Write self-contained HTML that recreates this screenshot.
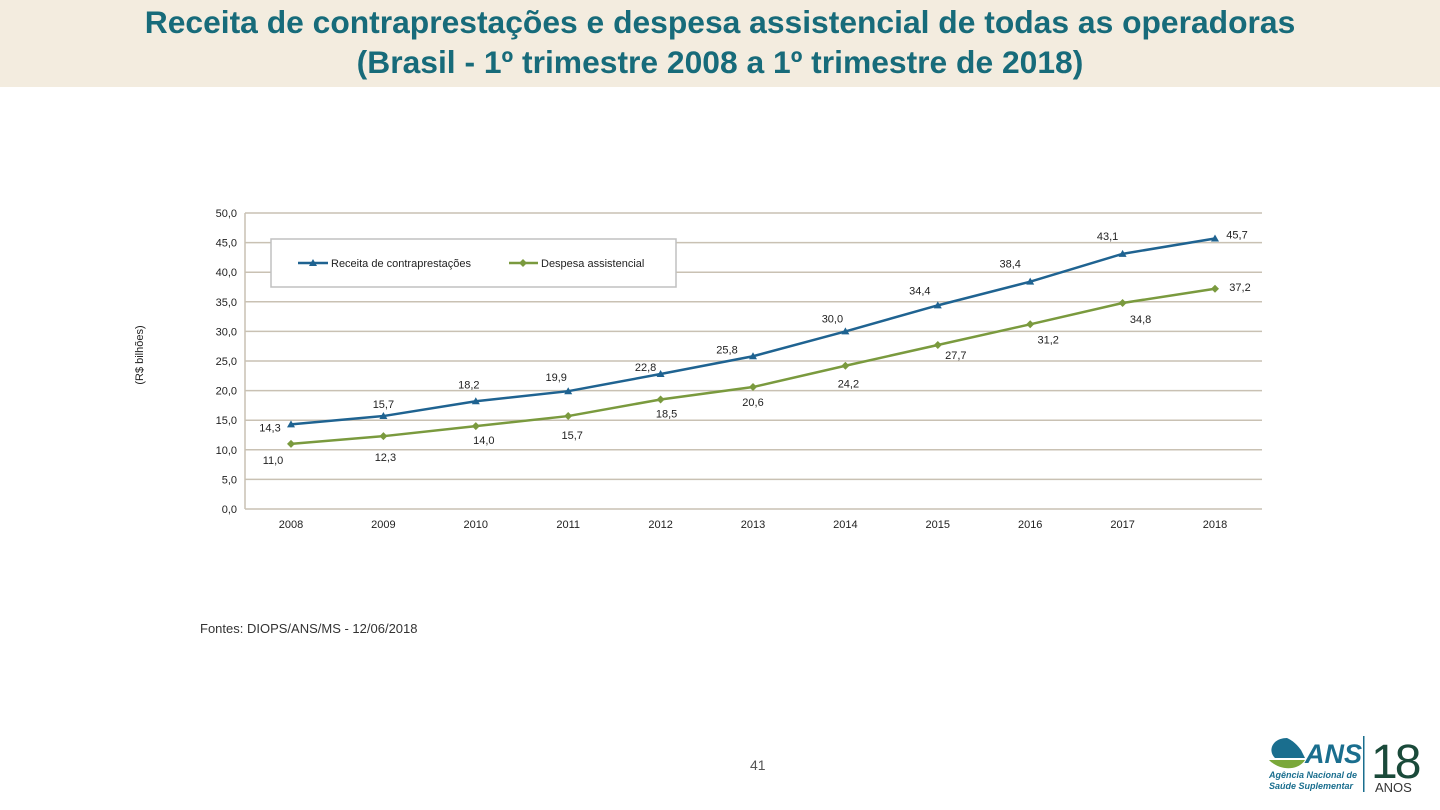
<!DOCTYPE html>
<html><head><meta charset="utf-8"><style>
body{margin:0;width:1440px;height:810px;background:#fff;position:relative;overflow:hidden;font-family:"Liberation Sans",sans-serif}
#title{position:absolute;left:0;top:0;width:1440px;height:87px;background:#f3ecdf;color:#176b7a;font-size:31.8px;font-weight:bold;text-align:center;line-height:40px;padding-top:2px;box-sizing:border-box;white-space:nowrap}
#src{position:absolute;left:200px;top:621px;font-size:13px;color:#333}
#pg{position:absolute;left:750px;top:757px;font-size:14px;color:#555}
</style></head><body>
<div id="title">Receita de contraprestações e despesa assistencial de todas as operadoras<br>(Brasil - 1º trimestre 2008 a 1º trimestre de 2018)</div>
<svg id="chart" width="1440" height="810" style="position:absolute;left:0;top:0"></svg>
<div id="src">Fontes: DIOPS/ANS/MS - 12/06/2018</div>
<div id="pg">41</div>
<svg width="170" height="70" style="position:absolute;left:1265px;top:730px">
<path d="M22 8 C8 8 2 20 10 28 L40 28 L36 20 C30 12 26 10 22 8Z" fill="#1a6e8e"/>
<path d="M4 30 L40 30 C34 40 16 42 4 30Z" fill="#7aa83a"/>
<text x="40" y="33" font-size="27" font-weight="bold" font-style="italic" fill="#1a6e8e" font-family="Liberation Sans, sans-serif">ANS</text>
<text x="4" y="48" font-size="9" font-style="italic" font-weight="bold" fill="#1a6e8e" font-family="Liberation Sans, sans-serif">Agência Nacional de</text>
<text x="4" y="59" font-size="9" font-style="italic" font-weight="bold" fill="#1a6e8e" font-family="Liberation Sans, sans-serif">Saúde Suplementar</text>
<rect x="98" y="6" width="1.5" height="56" fill="#1a6e8e"/>
<text x="106" y="48" font-size="48" fill="#1a4a3a" font-family="Liberation Sans, sans-serif" letter-spacing="-3">18</text>
<text x="110" y="62" font-size="13" fill="#333" font-family="Liberation Sans, sans-serif">ANOS</text>
</svg>
<script>
const years=['2008','2009','2010','2011','2012','2013','2014','2015','2016','2017','2018'];
const receita=[14.3,15.7,18.2,19.9,22.8,25.8,30.0,34.4,38.4,43.1,45.7];
const despesa=[11.0,12.3,14.0,15.7,18.5,20.6,24.2,27.7,31.2,34.8,37.2];
const yTicks=[0,5,10,15,20,25,30,35,40,45,50];
const recOff=[[-21,3],[0,-12],[-7,-17],[-12,-14],[-15,-7],[-26,-7],[-13,-13],[-18,-15],[-20,-18],[-15,-18],[22,-4]];
const desOff=[[-18,16],[2,21],[8,14],[4,19],[6,14],[0,15],[3,18],[18,10],[18,15],[18,16],[25,-2]];
const svg=document.getElementById('chart');const NS='http://www.w3.org/2000/svg';
const X=i=>291+i*92.4, Y=v=>509-v*5.92;
function mk(t,a){const e=document.createElementNS(NS,t);for(const k in a)e.setAttribute(k,a[k]);svg.appendChild(e);return e;}
const fmt=v=>v.toFixed(1).replace('.',',');
yTicks.forEach(v=>{const l=mk('line',{x1:245,x2:1262,y1:Y(v),y2:Y(v),stroke:'#c9c1b3','stroke-width':1.5});

const t=mk('text',{x:237,y:Y(v)+4,'text-anchor':'end','font-size':11,fill:'#222'});t.textContent=fmt(v);
});
mk('line',{x1:245,x2:245,y1:Y(50),y2:Y(0),stroke:'#c9c1b3','stroke-width':1.5});
years.forEach((y,i)=>{const t=mk('text',{x:X(i),y:528,'text-anchor':'middle','font-size':11,fill:'#222'});t.textContent=y;
});
const yt=mk('text',{transform:'translate(143,355) rotate(-90)','text-anchor':'middle','font-size':11,fill:'#222'});yt.textContent='(R$ bilhões)';

function series(d,col,off,mark,name){
const p=mk('polyline',{points:d.map((v,i)=>X(i)+','+Y(v)).join(' '),fill:'none',stroke:col,'stroke-width':2.5});

d.forEach((v,i)=>{const x=X(i),y=Y(v);let m;
if(mark==='tri')m=mk('path',{d:`M${x} ${y-4}L${x+4} ${y+3}L${x-4} ${y+3}Z`,fill:col});
else m=mk('path',{d:`M${x} ${y-4}L${x+4} ${y}L${x} ${y+4}L${x-4} ${y}Z`,fill:col});

const t=mk('text',{x:x+off[i][0],y:y+off[i][1]+4,'text-anchor':'middle','font-size':11,fill:'#222'});t.textContent=fmt(v);
});}
series(receita,'#1f6391',recOff,'tri','receita');
series(despesa,'#7a9a3e',desOff,'dia','despesa');
const lg=mk('rect',{x:271,y:239,width:405,height:48,fill:'#fff',stroke:'#c0c0c0','stroke-width':1.5});

mk('line',{x1:298,x2:328,y1:263,y2:263,stroke:'#1f6391','stroke-width':2.5});
mk('path',{d:'M313 259L317 266L309 266Z',fill:'#1f6391'});
let t=mk('text',{x:331,y:267,'font-size':11,fill:'#222'});t.textContent='Receita de contraprestações';

mk('line',{x1:509,x2:538,y1:263,y2:263,stroke:'#7a9a3e','stroke-width':2.5});
mk('path',{d:'M523 259L527 263L523 267L519 263Z',fill:'#7a9a3e'});
t=mk('text',{x:541,y:267,'font-size':11,fill:'#222'});t.textContent='Despesa assistencial';

</script>
</body></html>
